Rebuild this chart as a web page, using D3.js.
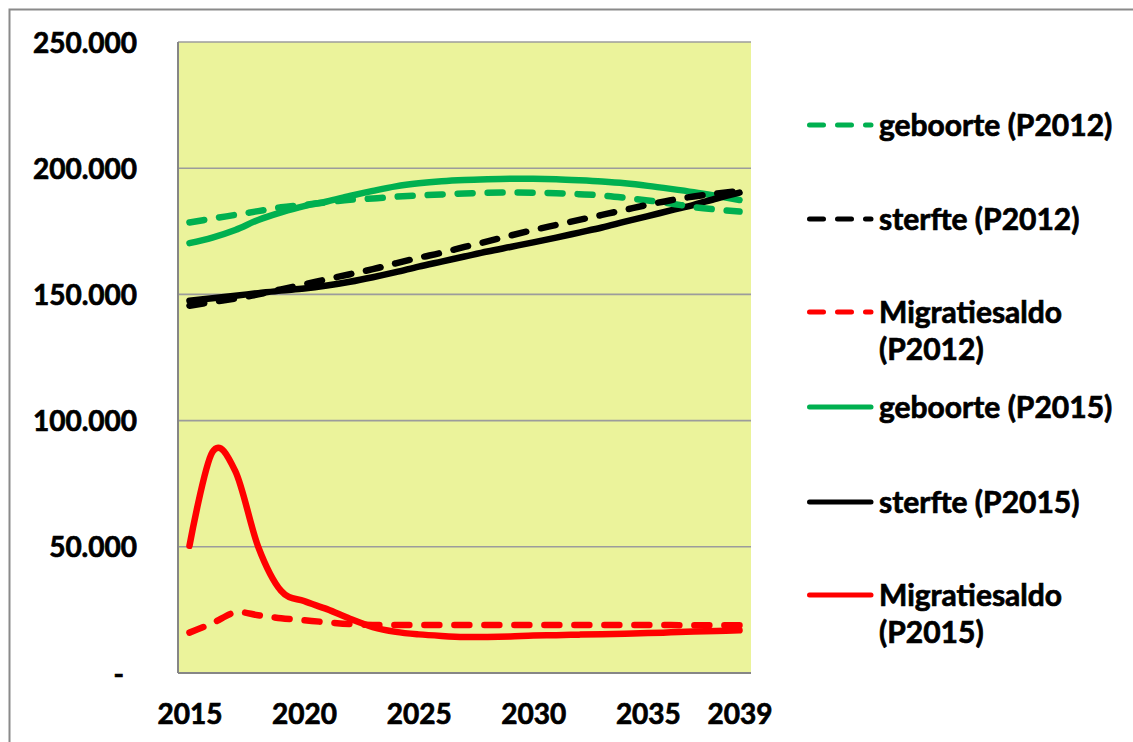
<!DOCTYPE html>
<html>
<head>
<meta charset="utf-8">
<script src="https://cdn.jsdelivr.net/npm/d3@7"></script>
<style>
  html, body { margin: 0; padding: 0; background: #ffffff; }
  svg { display: block; }
  text { font-family: Lato, "Open Sans", sans-serif; font-weight: bold; fill: #000; stroke: #000; stroke-width: 0.7px; }
</style>
</head>
<body>
<svg id="chart" width="1133" height="742"></svg>
<script>
const years = d3.range(2015, 2040);
const xTickLabels = [2015, 2020, 2025, 2030, 2035, 2039];
const yTicks = [0, 50000, 100000, 150000, 200000, 250000];
const yTickLabels = ["-", "50.000", "100.000", "150.000", "200.000", "250.000"];

const geboorteP2012 = [178500, 180000, 181500, 183000, 184500, 185500, 186500, 187500, 188000, 188700, 189200, 189600, 190000, 190300, 190400, 190300, 190100, 189700, 189200, 188300, 187200, 186000, 184600, 183600, 182800];
const sterfteP2012 = [145500, 147000, 148400, 150000, 152000, 154000, 156000, 158000, 160000, 162300, 164500, 166500, 168800, 171000, 173300, 175500, 177500, 179500, 181500, 183500, 185500, 187300, 188800, 190000, 191000];
const migratieP2012 = [16000, 19700, 24000, 22900, 21700, 20900, 20100, 19400, 19000, 19000, 19000, 19000, 19000, 19000, 19000, 19000, 19000, 19000, 19000, 19000, 19000, 19000, 18900, 18900, 18900];
const geboorteP2015 = [170300, 172500, 175500, 179500, 182500, 185000, 186800, 189000, 191000, 192800, 194000, 194800, 195300, 195600, 195800, 195800, 195600, 195200, 194700, 194000, 193000, 191800, 190500, 189000, 187400];
const sterfteP2015 = [147500, 148500, 149500, 150500, 151500, 152300, 153500, 155000, 156800, 158800, 161000, 163000, 165000, 167000, 168800, 170600, 172500, 174500, 176500, 178800, 181000, 183300, 185500, 188000, 190300];
const migratieP2015 = [50400, 87500, 80000, 50000, 32500, 28500, 25300, 21500, 18200, 16300, 15300, 14700, 14300, 14300, 14500, 14900, 15000, 15200, 15400, 15600, 15800, 16100, 16400, 16600, 16900];

const seriesNames = ["geboorte (P2012)", "sterfte (P2012)", "Migratiesaldo (P2012)", "geboorte (P2015)", "sterfte (P2015)", "Migratiesaldo (P2015)"];
const seriesValues = [geboorteP2012, sterfteP2012, migratieP2012, geboorteP2015, sterfteP2015, migratieP2015];
const seriesColors = ["#00b050", "#000000", "#ff0000", "#00b050", "#000000", "#ff0000"];
const seriesDashed = [true, true, true, false, false, false];
const legendLines = [["geboorte (P2012)"], ["sterfte (P2012)"], ["Migratiesaldo", "(P2012)"], ["geboorte (P2015)"], ["sterfte (P2015)"], ["Migratiesaldo", "(P2015)"]];

const svg = d3.select("#chart");
const plot = { left: 178, right: 751, top: 42, bottom: 673 };

// outer chart border
svg.append("rect").attr("x", 9.5).attr("y", 9.5).attr("width", 1200).attr("height", 800)
  .attr("fill", "none").attr("stroke", "#8a8a8a").attr("stroke-width", 2);

const x = d3.scalePoint().domain(years).range([plot.left, plot.right]).padding(0.5);
const y = d3.scaleLinear().domain([0, 250000]).range([plot.bottom, plot.top]);

svg.append("rect").attr("x", plot.left).attr("y", plot.top)
  .attr("width", plot.right - plot.left).attr("height", plot.bottom - plot.top)
  .attr("fill", "#ebf39b");

// gridlines
svg.append("g").selectAll("line").data(yTicks.filter(d => d > 0)).join("line")
  .attr("x1", plot.left).attr("x2", plot.right)
  .attr("y1", d => y(d)).attr("y2", d => y(d))
  .attr("stroke", "#9c9c9c").attr("stroke-width", 1.6);

// axes lines
svg.append("line").attr("x1", plot.left).attr("x2", plot.left).attr("y1", plot.top).attr("y2", plot.bottom)
  .attr("stroke", "#868686").attr("stroke-width", 2);
svg.append("line").attr("x1", plot.left).attr("x2", plot.right).attr("y1", plot.bottom).attr("y2", plot.bottom)
  .attr("stroke", "#868686").attr("stroke-width", 2);

// y axis labels via d3 axis
const yAxis = d3.axisLeft(y).tickValues(yTicks).tickSize(0).tickPadding(0)
  .tickFormat((d, i) => yTickLabels[i]);
const yg = svg.append("g").attr("transform", "translate(137,0)").call(yAxis);
yg.select(".domain").remove();
yg.selectAll("text").attr("font-size", 28).attr("font-family", "Lato, sans-serif")
  .attr("font-weight", "bold").attr("fill", "#000").attr("dy", "0.36em")
  .attr("dx", (d) => d === 0 ? -13 : 0);

// x axis labels
const xAxis = d3.axisBottom(x).tickValues(xTickLabels).tickSize(0).tickPadding(0).tickFormat(d3.format("d"));
const xg = svg.append("g").attr("transform", "translate(0,714)").call(xAxis);
xg.select(".domain").remove();
xg.selectAll("text").attr("font-size", 28).attr("font-family", "Lato, sans-serif")
  .attr("font-weight", "bold").attr("fill", "#000").attr("dy", "0.36em").attr("y", 0);

// lines
const line = d3.line().x((d, i) => x(years[i])).y(d => y(d)).curve(d3.curveCardinal.tension(0));
const order = [3, 4, 5, 0, 1, 2];
order.forEach(k => {
  svg.append("path").datum(seriesValues[k])
    .attr("d", line)
    .attr("fill", "none")
    .attr("stroke", seriesColors[k])
    .attr("stroke-width", 6.5)
    .attr("stroke-linecap", "round")
    .attr("stroke-linejoin", "round")
    .attr("stroke-dasharray", seriesDashed[k] ? "15,15" : null);
});

// legend
const legendY = [125, 219, 312, 407, 502, 595];
const legend = svg.append("g");
seriesNames.forEach((name, k) => {
  const ly = legendY[k];
  legend.append("line").attr("x1", 809.5).attr("x2", 871).attr("y1", ly).attr("y2", ly)
    .attr("stroke", seriesColors[k]).attr("stroke-width", 5)
    .attr("stroke-linecap", "round")
    .attr("stroke-dasharray", seriesDashed[k] ? "14,14" : null);
  const t = legend.append("text").attr("x", 879).attr("y", ly).attr("font-size", 30);
  legendLines[k].forEach((s, j) => {
    t.append("tspan").attr("x", 879).attr("y", ly + j * 37).attr("dy", "0.36em").text(s);
  });
});
</script>
</body>
</html>
